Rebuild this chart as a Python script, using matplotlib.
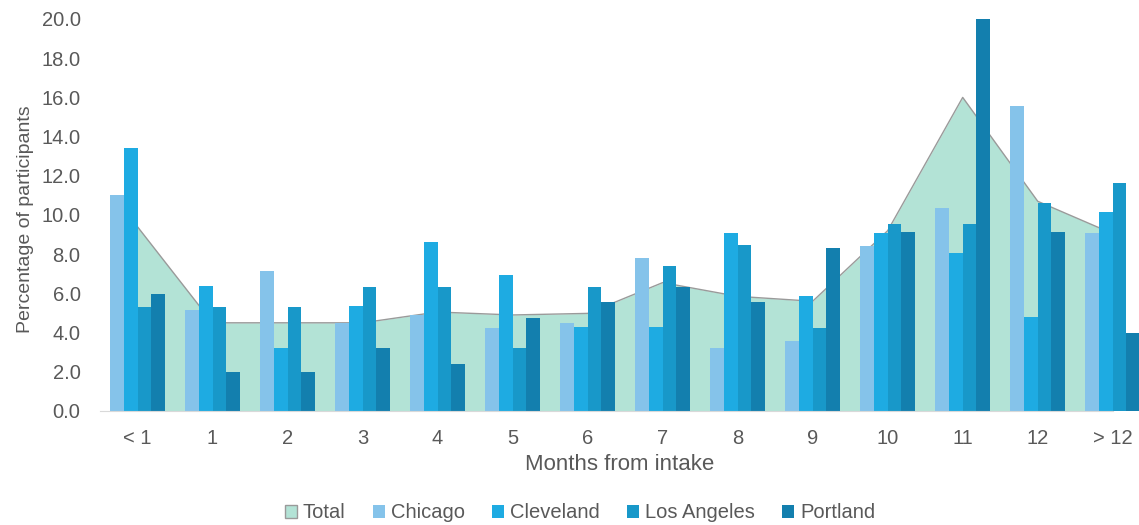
import numpy as np
import matplotlib
matplotlib.use("Agg")
import matplotlib.pyplot as plt
from matplotlib.patches import Patch

plt.rcParams.update({"font.family": ["Liberation Sans", "DejaVu Sans"]})

# -- Datos --
months = ["< 1", "1", "2", "3", "4", "5", "6", "7", "8", "9", "10", "11", "12", "> 12"]
total = [9.4, 4.5, 4.5, 4.5, 5.05, 4.9, 4.98, 6.55, 5.85, 5.6, 9.2, 16.0, 10.7, 9.05]
chicago = [11.0, 5.15, 7.15, 4.5, 4.9, 4.25, 4.5, 7.8, 3.23, 3.57, 8.43, 10.36, 15.56, 9.07]
cleveland = [13.4, 6.4, 3.2, 5.35, 8.6, 6.95, 4.27, 4.27, 9.07, 5.87, 9.07, 8.05, 4.81, 10.17]
los_angeles = [5.3, 5.3, 5.3, 6.35, 6.35, 3.2, 6.35, 7.4, 8.47, 4.22, 9.52, 9.52, 10.6, 11.65]
portland = [5.95, 2.0, 2.0, 3.2, 2.4, 4.75, 5.55, 6.35, 5.55, 8.33, 9.13, 20.0, 9.13, 4.0]

cities = [("Chicago", chicago, "#85c3ea"),
          ("Cleveland", cleveland, "#1eabe2"),
          ("Los Angeles", los_angeles, "#1898c9"),
          ("Portland", portland, "#137fae")]

TEXT = "#595959"
FILL_TOTAL = "#b3e3d6"

fig = plt.figure(figsize=(11.39, 5.25), dpi=100)
ax = fig.add_axes([100 / 1139, 114 / 525, 1 - 100 / 1139, 392 / 525])

x = np.arange(len(months))

# Area del total detras de las barras
ax.fill_between(x, total, 0, color=FILL_TOTAL, zorder=1, linewidth=0)
ax.plot(x, total, color="#9a9a9a", linewidth=1.0, zorder=1.5)

# Barras agrupadas por ciudad
w = 0.183
for i, (name, vals, col) in enumerate(cities):
    ax.bar(x + (i - 1.5) * w, vals, width=w, color=col, zorder=2, linewidth=0)

ax.set_xlim(-0.5, 13.35)
ax.set_ylim(0, 20)
ax.set_yticks(np.arange(0, 20.1, 2))
ax.set_yticklabels([f"{v:.1f}" for v in np.arange(0, 20.1, 2)])
ax.set_xticks(x)
ax.set_xticklabels(months)
ax.tick_params(axis="both", length=0, labelsize=14.5, colors=TEXT)
ax.tick_params(axis="x", pad=13)
ax.tick_params(axis="y", pad=14)

for s in ["top", "right", "left"]:
    ax.spines[s].set_visible(False)
ax.spines["bottom"].set_color("#d9d9d9")
ax.spines["bottom"].set_bounds(-0.5, 13.0)
ax.spines["bottom"].set_zorder(3)

ax.set_ylabel("Percentage of participants", fontsize=14, color=TEXT)
ax.yaxis.set_label_coords(-0.064, 0.49)
ax.set_xlabel("Months from intake", fontsize=16, color=TEXT, labelpad=4)

# Leyenda inferior
handles = [Patch(facecolor=FILL_TOTAL, edgecolor="#9a9a9a", linewidth=1.0, label="Total")]
handles += [Patch(facecolor=c, edgecolor="none", label=n) for n, _, c in cities]
fig.legend(handles=handles, loc="center", bbox_to_anchor=(580 / 1139, 12 / 525),
           ncol=5, frameon=False, fontsize=14.5, labelcolor=TEXT,
           handlelength=0.6, handleheight=0.6, handletextpad=0.3, columnspacing=1.35)

fig.savefig("out.png", dpi=100)
